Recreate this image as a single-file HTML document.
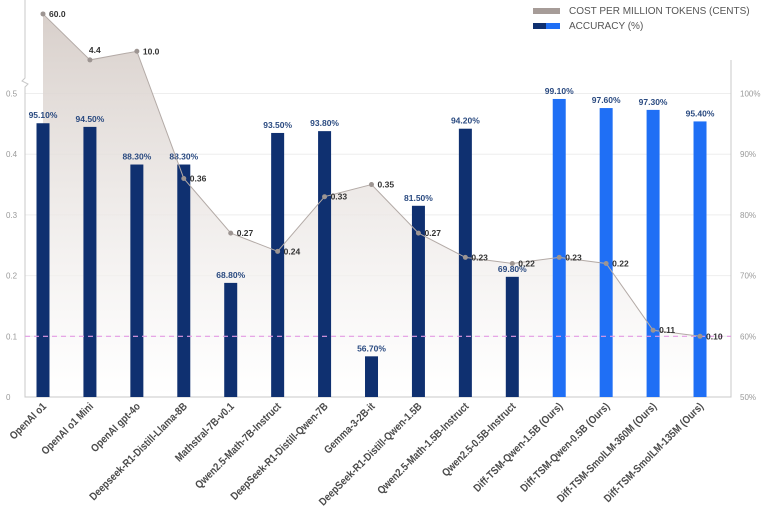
<!DOCTYPE html>
<html><head><meta charset="utf-8"><style>
body{margin:0;background:#fff;}
svg{display:block;font-family:"Liberation Sans",sans-serif;}
</style></head><body>
<svg id="c" width="768" height="517" viewBox="0 0 768 517">
<defs>
<linearGradient id="ag" x1="0" y1="0" x2="0" y2="1">
<stop offset="0" stop-color="#d6cdc8" stop-opacity="0.95"/>
<stop offset="1" stop-color="#ffffff" stop-opacity="0.6"/>
</linearGradient>
</defs>
<g id="legend">
<rect x="533" y="8" width="27" height="6" fill="#a69c98"/>
<text x="569" y="14" font-size="10" fill="#555">COST PER MILLION TOKENS (CENTS)</text>
<rect x="533" y="23" width="13" height="6" fill="#0f3070"/>
<rect x="546" y="23" width="14" height="6" fill="#1f6ff5"/>
<text x="569" y="29" font-size="10" fill="#555">ACCURACY (%)</text>
</g>
</svg>
<script>
const categories=["OpenAI o1","OpenAI o1 Mini","OpenAI gpt-4o","Deepseek-R1-Distill-Llama-8B","Mathstral-7B-v0.1","Qwen2.5-Math-7B-Instruct","DeepSeek-R1-Distill-Qwen-7B","Gemma-3-2B-it","DeepSeek-R1-Distill-Qwen-1.5B","Qwen2.5-Math-1.5B-Instruct","Qwen2.5-0.5B-Instruct","Diff-TSM-Qwen-1.5B (Ours)","Diff-TSM-Qwen-0.5B (Ours)","Diff-TSM-SmolLM-360M (Ours)","Diff-TSM-SmolLM-135M (Ours)"];
const accuracy=[95.1,94.5,88.3,88.3,68.8,93.5,93.8,56.7,81.5,94.2,69.8,99.1,97.6,97.3,95.4];
const cost=[60.0,4.4,10.0,0.36,0.27,0.24,0.33,0.35,0.27,0.23,0.22,0.23,0.22,0.11,0.10];
const ours=[false,false,false,false,false,false,false,false,false,false,false,true,true,true,true];
const leftTicks=["0","0.1","0.2","0.3","0.4","0.5"];
const leftTickVals=[0,0.1,0.2,0.3,0.4,0.5];
const rightTicks=["50%","60%","70%","80%","90%","100%"];
const rightTickVals=[50,60,70,80,90,100];
const costLabels=["60.0","4.4","10.0","0.36","0.27","0.24","0.33","0.35","0.27","0.23","0.22","0.23","0.22","0.11","0.10"];

const NS="http://www.w3.org/2000/svg";
const svg=document.getElementById('c');
const X0=43,DX=46.93,BASE=397,PX=607;
const x=i=>X0+i*DX;
const yL=v=>v<=0.5?BASE-v*PX:77-8.14*Math.sqrt(v);
const yR=v=>BASE-(v-50)*6.07;
function mk(t,a,p){const e=document.createElementNS(NS,t);for(const k in a)e.setAttribute(k,a[k]);(p||svg).appendChild(e);return e;}

const grid=mk('g',{});


leftTickVals.forEach((v,i)=>{
  if(v>0){const l=mk('line',{x1:25,x2:731,y1:yL(v),y2:yL(v),stroke:'#eeeeee','stroke-width':1},grid);
  
  }
  const t=mk('text',{x:6,y:yL(v)+3,'font-size':8,fill:'#999'});
  t.textContent=leftTicks[i];
  
  
});
rightTickVals.forEach((v,i)=>{
  const t=mk('text',{x:740,y:yR(v)+3,'font-size':8,fill:'#999'});
  t.textContent=rightTicks[i];
  
  
});

let d='M'+x(0)+','+BASE;
cost.forEach((v,i)=>{d+=' L'+x(i)+','+yL(v);});
d+=' L'+x(cost.length-1)+','+BASE+' Z';
const area=mk('path',{d:d,fill:'url(#ag)'});



const ax=mk('path',{d:'M25,0 V78 l-3,3 l6,3 l-3,3 V397 H731 V60',fill:'none',stroke:'#c8c8c8','stroke-width':1});



accuracy.forEach((v,i)=>{
  const y=yR(v);
  const r=mk('rect',{x:x(i)-6.5,y:y,width:13,height:BASE-y,fill:ours[i]?'#1f6ff5':'#0f3070'});
  
  
  const t=mk('text',{x:x(i),y:y-5,'font-size':8.5,'font-weight':'bold',fill:'#2a4a80','text-anchor':'middle'});
  t.textContent=v.toFixed(2)+'%';
  
  
});

const th=mk('line',{x1:25,x2:731,y1:yL(0.1),y2:yL(0.1),stroke:'#e49ae4','stroke-width':1.2,'stroke-dasharray':'5,4'});



let ld='';
cost.forEach((v,i)=>{ld+=(i?' L':'M')+x(i)+','+yL(v);});
const cl=mk('path',{d:ld,fill:'none',stroke:'#b3aaa6','stroke-width':1});


cost.forEach((v,i)=>{
  const c=mk('circle',{cx:x(i),cy:yL(v),r:2.5,fill:'#9d9592'});
  
  
  const up=(i===1);
  const t=mk('text',{x:up?x(i)-1:x(i)+6,y:up?yL(v)-7:yL(v)+3,'font-size':8.5,'font-weight':'bold',fill:'#333'});
  t.textContent=costLabels[i];
  
  
});

categories.forEach((c,i)=>{
  const ax0=x(i)+4, ay0=407;
  const t=mk('text',{x:0,y:0,'font-size':10.8,'font-weight':'bold',fill:'#4a4a4a','text-anchor':'end',transform:'translate('+ax0+' '+ay0+') rotate(-45) scale(0.87 1)'});
  t.textContent=c;
  
  
});
svg.appendChild(document.getElementById('legend'));
</script>
</body></html>
